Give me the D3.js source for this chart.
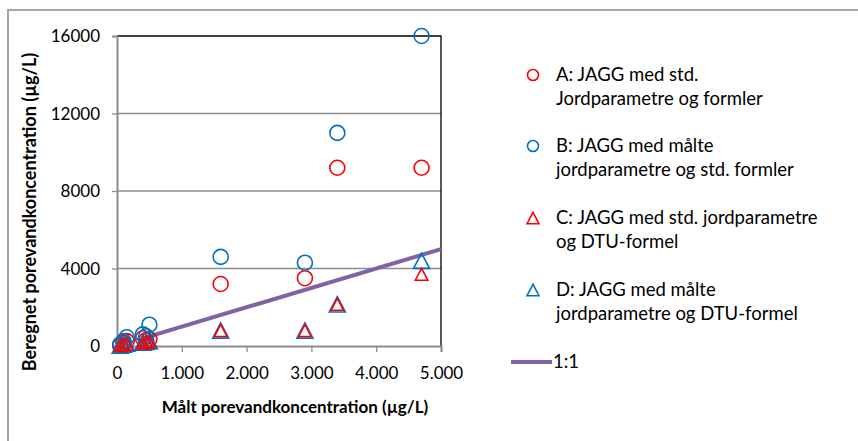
<!DOCTYPE html>
<html>
<head>
<meta charset="utf-8">
<script src="https://cdn.jsdelivr.net/npm/d3@7"></script>
<style>
  body { margin: 0; background: #fff; }
  text { font-family: Lato, "Open Sans", sans-serif; fill: #000; }
</style>
</head>
<body>
<div class="chart"></div>
<script>
// data
var measured = [50, 100, 150, 400, 450, 500, 1600, 2900, 3400, 4700];
var seriesA = [30, 150, 250, 400, 300, 350, 3200, 3500, 9200, 9200];
var seriesB = [80, 250, 450, 600, 500, 1100, 4600, 4300, 11000, 16000];
var seriesC = [20, 60, 100, 150, 200, 220, 800, 800, 2150, 3700];
var seriesD = [20, 70, 120, 180, 220, 250, 800, 800, 2150, 4400];
var lineX = [500, 5000];
var xTicks = [0, 1000, 2000, 3000, 4000, 5000];
var yTicks = [0, 4000, 8000, 12000, 16000];
var legendLabels = [
  ["A: JAGG med std.", "Jordparametre og formler"],
  ["B: JAGG med målte", "jordparametre og std. formler"],
  ["C: JAGG med std. jordparametre", "og DTU-formel"],
  ["D: JAGG med målte", "jordparametre og DTU-formel"],
  ["1:1"]
];

var widthSVG = 858;
var heightSVG = 441;
var margins = { top: 36, left: 117 };
var width = 324;
var height = 310;

var red = "#ff0000";
var blue = "#0070c0";
var purple = "#8064a2";

var svg = d3.select(".chart")
  .append("svg")
  .attr("width", widthSVG)
  .attr("height", heightSVG);

// outer chart frame
svg.append("rect")
  .attr("x", 8).attr("y", 10)
  .attr("width", 900).attr("height", 500)
  .attr("fill", "none")
  .attr("stroke", "#a6a6a6")
  .attr("stroke-width", 2);

var g = svg.append("g")
  .attr("transform", `translate(${margins.left}, ${margins.top})`);

var x = d3.scaleLinear().domain([0, 5000]).range([0, width]);
var y = d3.scaleLinear().domain([0, 16000]).range([height, 0]);

// gridlines
g.selectAll(".grid")
  .data(yTicks.slice(1, -1))
  .enter()
  .append("line")
  .attr("x1", 0).attr("x2", width)
  .attr("y1", d => y(d)).attr("y2", d => y(d))
  .attr("stroke", "#8c8c8c")
  .attr("stroke-width", 1.3);

// top and right border of plot
g.append("path")
  .attr("d", `M0,0H${width}V${height}`)
  .attr("fill", "none")
  .attr("stroke", "#000")
  .attr("stroke-width", 1.3);

// axes
var fmtX = d => d === 0 ? "0" : d3.format(",")(d).replace(/,/g, ".");

var xAxis = g.append("g")
  .attr("transform", `translate(0, ${height})`)
  .call(d3.axisBottom(x).tickValues(xTicks).tickFormat(fmtX).tickSizeOuter(0).tickSize(6).tickPadding(15));

var yAxis = g.append("g")
  .call(d3.axisLeft(y).tickValues(yTicks).tickFormat(d3.format("d")).tickSizeOuter(0).tickSize(5).tickPadding(12));

[xAxis, yAxis].forEach(function (a) {
  a.select(".domain").attr("stroke", "#8c8c8c").attr("stroke-width", 2);
  a.selectAll(".tick line").attr("stroke", "#8c8c8c").attr("stroke-width", 1.3);
  a.selectAll(".tick text")
    .attr("font-family", "Lato, sans-serif")
    .attr("font-size", 17);
});
yAxis.selectAll(".tick text").attr("dy", "0.35em");

// 1:1 line
g.append("path")
  .datum(lineX)
  .attr("d", d3.line().x(d => x(d)).y(d => y(d)))
  .attr("fill", "none")
  .attr("stroke", purple)
  .attr("stroke-width", 4);

// markers
var tri = function (s) {
  var h = s * 0.95;
  return `M0,${-h / 2}L${s / 2},${h / 2}L${-s / 2},${h / 2}Z`;
};

function drawSeries(values, shape, color, size) {
  var sel = g.append("g").selectAll("path")
    .data(values)
    .enter()
    .append("path")
    .attr("transform", (d, i) => `translate(${x(measured[i])}, ${y(d)})`)
    .attr("fill", "none")
    .attr("stroke", color)
    .attr("stroke-width", 1.6);
  if (shape === "circle") {
    sel.attr("d", d3.symbol(d3.symbolCircle, size * size * Math.PI / 4)());
  } else {
    sel.attr("d", tri(size));
  }
}

drawSeries(seriesA, "circle", red, 15);
drawSeries(seriesB, "circle", blue, 15);
drawSeries(seriesD, "triangle", blue, 16);
drawSeries(seriesC, "triangle", red, 12.5);

// axis titles
svg.append("text")
  .attr("transform", "translate(36, 212) rotate(-90)")
  .attr("text-anchor", "middle")
  .attr("font-weight", "bold")
  .attr("font-size", 18)
  .text("Beregnet porevandkoncentration (µg/L)");

svg.append("text")
  .attr("x", 295).attr("y", 413)
  .attr("text-anchor", "middle")
  .attr("font-weight", "bold")
  .attr("font-size", 17)
  .text("Målt porevandkoncentration (µg/L)");

// legend
var legendY = [75, 146, 218, 290, 362];
var legendShapes = [["circle", red], ["circle", blue], ["triangle", red], ["triangle", blue], ["line", purple]];

var legend = svg.append("g");
legendLabels.forEach(function (lines, i) {
  var ly = legendY[i];
  var shape = legendShapes[i];
  if (shape[0] === "circle") {
    legend.append("path")
      .attr("transform", `translate(533, ${ly})`)
      .attr("d", d3.symbol(d3.symbolCircle, 11 * 11 * Math.PI / 4)())
      .attr("fill", "none").attr("stroke", shape[1]).attr("stroke-width", 1.6);
  } else if (shape[0] === "triangle") {
    legend.append("path")
      .attr("transform", `translate(533, ${ly})`)
      .attr("d", tri(12))
      .attr("fill", "none").attr("stroke", shape[1]).attr("stroke-width", 1.6);
  } else {
    legend.append("line")
      .attr("x1", 511).attr("x2", 552)
      .attr("y1", ly).attr("y2", ly)
      .attr("stroke", shape[1]).attr("stroke-width", 4);
  }
  lines.forEach(function (t, j) {
    legend.append("text")
      .attr("x", shape[0] === "line" ? 553 : 556)
      .attr("y", ly + j * 24)
      .attr("dy", "0.35em")
      .attr("font-size", 18.5)
      .text(t);
  });
});
</script>
</body>
</html>
